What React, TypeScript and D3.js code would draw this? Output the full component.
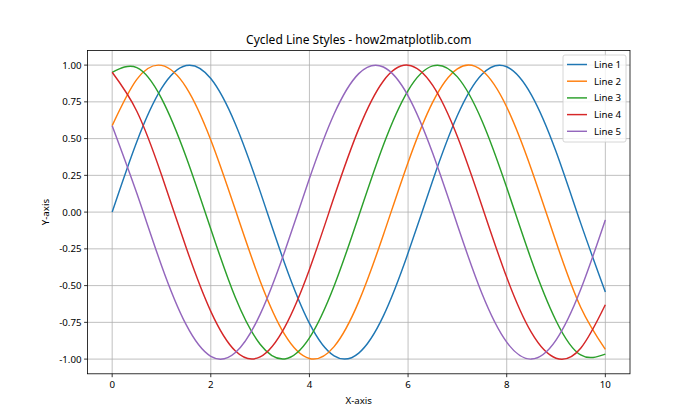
import React from "react";
import * as d3 from "d3";

const xs = [0, 0.5, 1, 1.5, 2, 2.5, 3, 3.5, 4, 4.5, 5, 5.5, 6, 6.5, 7, 7.5, 8, 8.5, 9, 9.5, 10];
const line1 = [0, 0.479, 0.841, 0.997, 0.909, 0.598, 0.141, -0.351, -0.757, -0.978, -0.959, -0.706, -0.279, 0.215, 0.657, 0.938, 0.989, 0.798, 0.412, -0.075, -0.544];
const line2 = [0.588, 0.903, 0.998, 0.849, 0.491, 0.014, -0.468, -0.834, -0.996, -0.915, -0.609, -0.154, 0.338, 0.748, 0.975, 0.963, 0.715, 0.292, -0.202, -0.647, -0.934];
const line3 = [0.951, 0.983, 0.774, 0.375, -0.115, -0.583, -0.899, -0.999, -0.856, -0.503, -0.026, 0.457, 0.827, 0.995, 0.92, 0.62, 0.167, -0.326, -0.739, -0.972, -0.966];
const line4 = [0.951, 0.686, 0.254, -0.241, -0.675, -0.945, -0.985, -0.782, -0.39, 0.102, 0.566, 0.892, 0.9995, 0.862, 0.514, 0.04, -0.444, -0.819, -0.994, -0.926, -0.63];
const line5 = [0.588, 0.128, -0.363, -0.766, -0.981, -0.955, -0.696, -0.266, 0.228, 0.667, 0.942, 0.987, 0.791, 0.4, -0.088, -0.556, -0.885, -1.0, -0.871, -0.527, -0.053];
const seriesNames = ["Line 1", "Line 2", "Line 3", "Line 4", "Line 5"];
const seriesValues = [line1, line2, line3, line4, line5];
const colors = ["#1f77b4", "#ff7f0e", "#2ca02c", "#d62728", "#9467bd"];
const xTicks = [0, 2, 4, 6, 8, 10];
const yTicks = [-1, -0.75, -0.5, -0.25, 0, 0.25, 0.5, 0.75, 1];

const W = 700, H = 420;
const L = 87.5, R = 630, T = 50.4, B = 373.8;
const FONT = "'Noto Sans', 'DejaVu Sans', sans-serif";

export default function App() {
  const x = d3.scaleLinear().domain([-0.5, 10.5]).range([L, R]);
  const y = d3.scaleLinear().domain([-1.1, 1.1]).range([B, T]);
  const line = d3
    .line<number>()
    .x((_, i) => x(xs[i]))
    .y((d) => y(d))
    .curve(d3.curveNatural);

  const legX = 563, legY = 55, legW = 63, rowH = 16.7;
  return (
    <svg width={W} height={H} style={{ position: "absolute", left: 0, top: 0 }} fontFamily={FONT}>
      <rect x={0} y={0} width={W} height={H} fill="#fff" />
      {xTicks.map((t) => (
        <line key={"gx" + t} x1={x(t)} x2={x(t)} y1={T} y2={B} stroke="#b0b0b0" strokeWidth={0.8} />
      ))}
      {yTicks.map((t) => (
        <line key={"gy" + t} x1={L} x2={R} y1={y(t)} y2={y(t)} stroke="#b0b0b0" strokeWidth={0.8} />
      ))}
      <defs>
        <clipPath id="clip">
          <rect x={L} y={T} width={R - L} height={B - T} />
        </clipPath>
      </defs>
      <g clipPath="url(#clip)">
        {seriesValues.map((vals, i) => (
          <path key={i} d={line(vals) || ""} fill="none" stroke={colors[i]} strokeWidth={1.46} />
        ))}
      </g>
      <rect x={L} y={T} width={R - L} height={B - T} fill="none" stroke="#000" strokeWidth={0.8} />
      {xTicks.map((t) => (
        <g key={"tx" + t}>
          <line x1={x(t)} x2={x(t)} y1={B} y2={B + 3.4} stroke="#000" strokeWidth={0.8} />
          <text x={x(t)} y={B + 14} fontSize={9.7} textAnchor="middle" fill="#000">{t}</text>
        </g>
      ))}
      {yTicks.map((t) => (
        <g key={"ty" + t}>
          <line x1={L - 3.4} x2={L} y1={y(t)} y2={y(t)} stroke="#000" strokeWidth={0.8} />
          <text x={L - 6} y={y(t) + 3.4} fontSize={9.7} textAnchor="end" fill="#000">{t.toFixed(2)}</text>
        </g>
      ))}
      <text x={(L + R) / 2} y={44} fontSize={12} textAnchor="middle" fill="#000">Cycled Line Styles - how2matplotlib.com</text>
      <text x={(L + R) / 2} y={404} fontSize={9.7} textAnchor="middle" fill="#000">X-axis</text>
      <text x={0} y={0} fontSize={9.7} textAnchor="middle" fill="#000" transform={`translate(49,${(T + B) / 2}) rotate(-90)`}>Y-axis</text>
      <rect x={legX} y={legY} width={legW} height={87} rx={2} fill="#fff" fillOpacity={0.8} stroke="#cccccc" strokeWidth={0.8} />
      {seriesNames.map((n, i) => (
        <g key={n}>
          <line x1={legX + 4} x2={legX + 24} y1={legY + 9.5 + i * rowH} y2={legY + 9.5 + i * rowH} stroke={colors[i]} strokeWidth={1.46} />
          <text x={legX + 31} y={legY + 13 + i * rowH} fontSize={9.7} fill="#000">{n}</text>
        </g>
      ))}
    </svg>
  );
}
